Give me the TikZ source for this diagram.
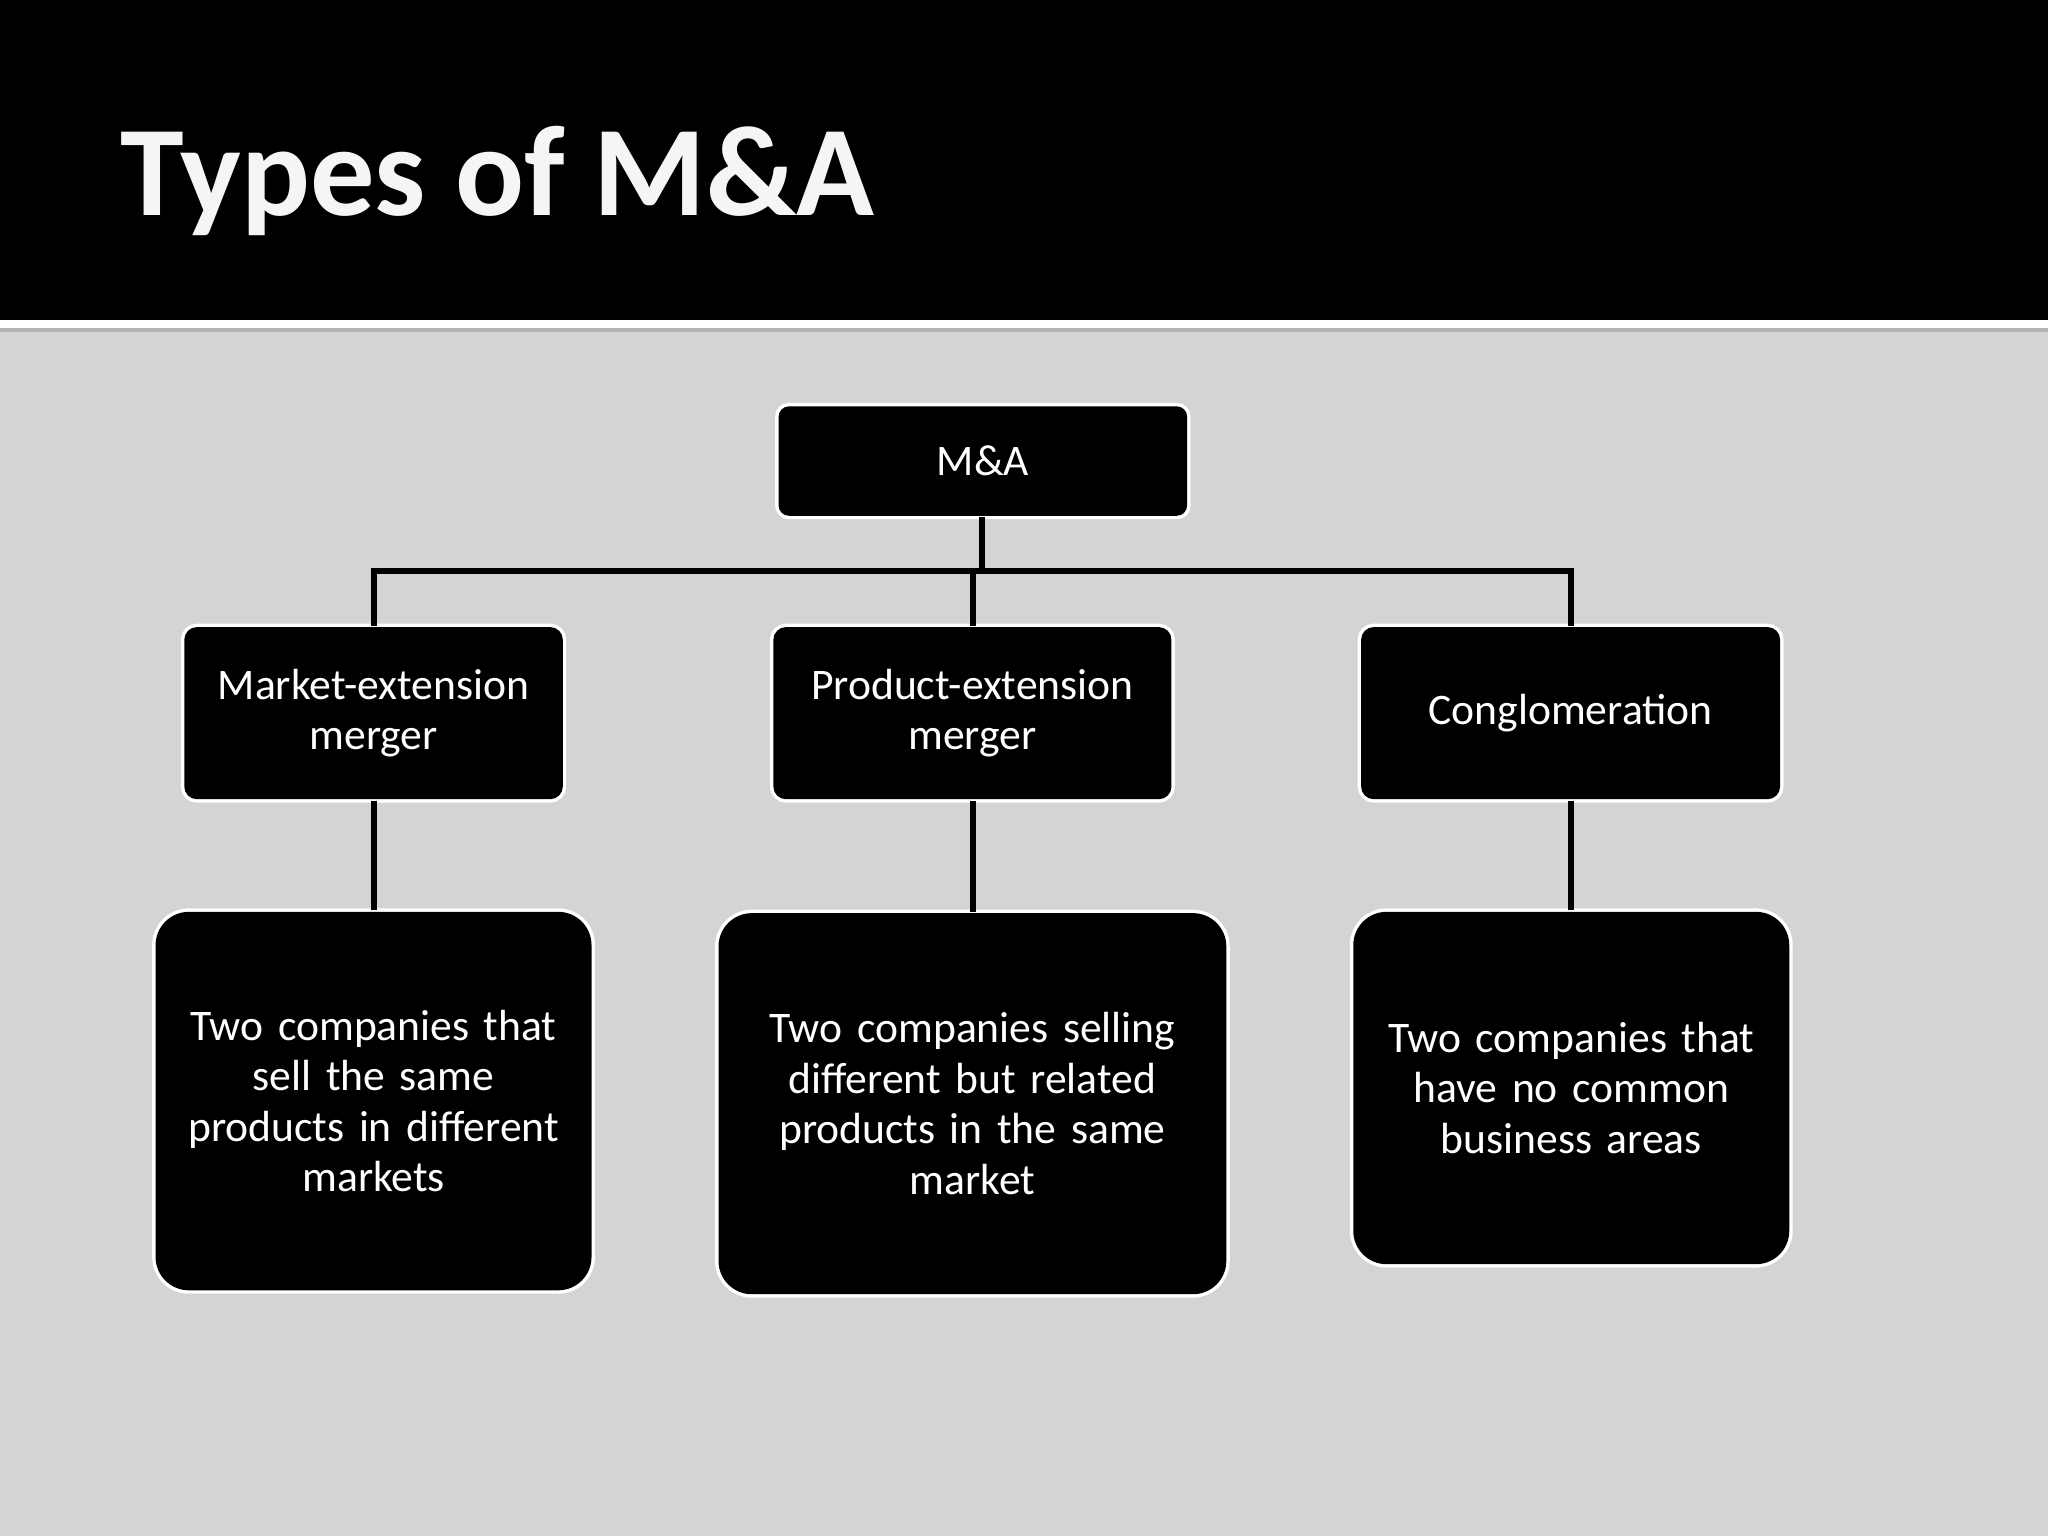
\documentclass[tikz,border=0pt]{standalone}
\usepackage{fontspec}
\setmainfont{Carlito}
\begin{document}
\begin{tikzpicture}[x=0.02cm,y=-0.02cm,
  box/.style={draw=white,line width=3.4pt,fill=black,text=white,rounded corners=8pt,align=center,inner sep=0pt,
    double=black,double distance=0pt},
  conn/.style={line width=2.6pt,draw=black}]
\useasboundingbox (0,0) rectangle (1568,1176);
\fill[gray!35!white,fill={rgb,255:red,212;green,212;blue,212}] (0,0) rectangle (1568,1176);
\fill[black] (0,0) rectangle (1568,245);
\fill[white] (0,245) rectangle (1568,251);
\fill[gray!60] (0,251) rectangle (1568,254);
\node[anchor=base west,text=white!92!gray,font=\bfseries\fontsize{56}{60}\selectfont,inner sep=0pt] (title) at (92,165) {Types of M\&A};
\def\bx#1#2#3#4#5#6#7{%
  \draw[white,line width=4pt,rounded corners=#7] (#2,#3) rectangle (#4,#5);
  \draw[black,fill=black,line width=1pt,rounded corners=#7] (#2,#3) rectangle (#4,#5);
  \node[text=white,align=center,font=\fontsize{19}{22}\selectfont,text width=#4*0.02cm-#2*0.02cm] (#1) at ({(#2+#4)/2},{(#3+#5)/2}) {#6};
  \path (#2,#3) coordinate (#1nw) (#4,#5) coordinate (#1se);}
\bx{root}{597}{312}{908}{394}{M\&A}{4pt}
\bx{a}{142}{481}{430}{611}{Market-extension\\merger}{5pt}
\bx{b}{593}{481}{896}{611}{Product-extension\\merger}{5pt}
\bx{c}{1043}{481}{1362}{611}{Conglomeration}{5pt}
\bx{da}{120}{699}{452}{987}{Two companies that\\sell the same\\products in different\\markets}{14pt}
\bx{db}{551}{700}{938}{990}{Two companies selling\\different but related\\products in the same\\market\\[10pt]}{14pt}
\bx{dc}{1037}{699}{1369}{967}{Two companies that\\have no common\\business areas\\[12pt]}{14pt}
\coordinate (j) at (752,437);
\draw[conn] (752,396) -- (j);
\draw[conn] (286,479) -- (286,437) -- (1203,437) -- (1203,479);
\draw[conn] (745,437) -- (745,479);
\draw[conn] (286,613) -- (286,697);
\draw[conn] (745,613) -- (745,698);
\draw[conn] (1203,613) -- (1203,697);
\end{tikzpicture}
\end{document}
